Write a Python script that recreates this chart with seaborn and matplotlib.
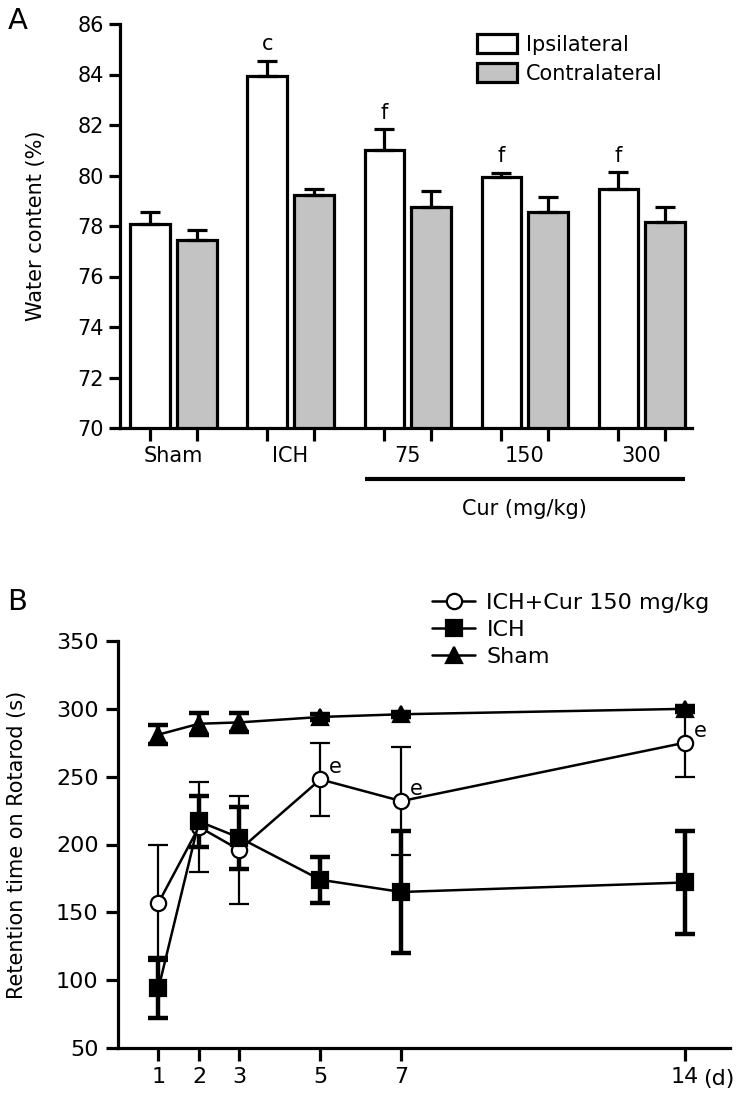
import numpy as np
import pandas as pd
import matplotlib
matplotlib.use("Agg")
import matplotlib.pyplot as plt
import matplotlib.transforms as mtransforms
import seaborn as sns

# Panel A: brain water content (%), mean and SEM
groups = ["Sham", "ICH", "75", "150", "300"]
sides = ["Ipsilateral", "Contralateral"]
ipsi_mean = [78.07, 83.95, 81.01, 79.94, 79.47]
ipsi_sem = [0.50, 0.60, 0.83, 0.17, 0.67]
contra_mean = [77.46, 79.24, 78.74, 78.56, 78.17]
contra_sem = [0.37, 0.23, 0.63, 0.58, 0.60]
sig_a = ["", "c", "f", "f", "f"]

# Panel B: rotarod retention time (s), mean and SEM
days = [1, 2, 3, 5, 7, 14]
day_labels = ["1", "2", "3", "5", "7", "14"]
cur_mean = [157, 213, 196, 248, 232, 275]
cur_sem = [43, 33, 40, 27, 40, 25]
ich_mean = [94, 217, 205, 174, 165, 172]
ich_sem = [22, 19, 23, 17, 45, 38]
sham_mean = [281, 289, 290, 294, 296, 300]
sham_sem = [7, 8, 7, 2, 2, 2]
sig_b = ["", "", "", "e", "e", "e"]

sns.set_theme(style="ticks")
plt.rcParams["font.family"] = ["DejaVu Sans"]
plt.rcParams.update({
    "text.color": "black", "axes.labelcolor": "black",
    "xtick.color": "black", "ytick.color": "black",
    "axes.edgecolor": "black",
})

fig = plt.figure(figsize=(7.4, 10.95), dpi=100)
W, H = 740, 1095
ax1 = fig.add_axes([120 / W, 1 - 428 / H, 572 / W, 404 / H])
ax2 = fig.add_axes([118 / W, 1 - 1048 / H, 612 / W, 407 / H])

# ---- Panel A
df_a = pd.DataFrame({
    "group": groups * 2,
    "side": [sides[0]] * len(groups) + [sides[1]] * len(groups),
    "value": ipsi_mean + contra_mean,
})
sns.barplot(data=df_a, x="group", y="value", hue="side", order=groups,
            hue_order=sides, palette=["white", "#c3c3c3"], edgecolor="black",
            linewidth=2.3, errorbar=None, width=0.8, gap=0.16, ax=ax1)

centers = []
for cont, means, sems in zip(ax1.containers, [ipsi_mean, contra_mean],
                             [ipsi_sem, contra_sem]):
    xs = [b.get_x() + b.get_width() / 2 for b in cont]
    centers += xs
    ax1.errorbar(xs, means, yerr=[np.zeros(len(sems)), sems], fmt="none",
                 ecolor="black", elinewidth=2.3, capsize=7, capthick=2.3,
                 zorder=3)
    if means is ipsi_mean:
        for x, m, s, t in zip(xs, means, sems, sig_a):
            if t:
                ax1.text(x, m + s + 0.25, t, ha="center", va="bottom",
                         fontsize=15)

ax1.set_ylim(70, 86)
ax1.set_xlim(-0.457, 4.43)
ax1.set_yticks(range(70, 87, 2))
ax1.set_xticks(range(len(groups)))
ax1.set_xticklabels(groups)
ax1.set_xticks(centers, minor=True)
ax1.tick_params(axis="x", which="major", length=0, pad=13, labelsize=15)
ax1.tick_params(axis="x", which="minor", length=9, width=2.3, direction="out")
ax1.tick_params(axis="y", length=8, width=2.3, pad=3.5, labelsize=15)
ax1.set_xlabel("")
ax1.set_ylabel("Water content (%)", fontsize=15)
ax1.yaxis.set_label_coords(-0.129, 0.5)
for sp in ["top", "right"]:
    ax1.spines[sp].set_visible(False)
for sp in ["left", "bottom"]:
    ax1.spines[sp].set_linewidth(2.3)

trans = mtransforms.blended_transform_factory(ax1.transData, ax1.transAxes)
ax1.plot([1.637, 4.37], [-0.127, -0.127], color="black", lw=3,
         transform=trans, clip_on=False, solid_capstyle="butt")
ax1.text(3.0, -0.2, "Cur (mg/kg)", transform=trans, ha="center",
         va="center", fontsize=15)

handles, labels = ax1.get_legend_handles_labels()
ax1.legend(handles, labels, loc="upper left", bbox_to_anchor=(0.624, 0.975),
           frameon=False, fontsize=15, handlelength=1.9, handleheight=1.05,
           handletextpad=0.45, labelspacing=0.38, borderpad=0,
           borderaxespad=0)

# ---- Panel B
series = [
    ("ICH+Cur 150 mg/kg", cur_mean, cur_sem, "o", "white", 1.6),
    ("ICH", ich_mean, ich_sem, "s", "black", 3.2),
    ("Sham", sham_mean, sham_sem, "^", "black", 3.2),
]
for name, means, sems, mk, fc, elw in series:
    ax2.errorbar(days, means, yerr=sems, fmt="none", ecolor="black",
                 elinewidth=elw, capsize=7, capthick=elw, zorder=2)
for name, means, sems, mk, fc, elw in series:
    df_b = pd.DataFrame({"day": days, "value": means})
    sns.lineplot(data=df_b, x="day", y="value", color="black", lw=1.8,
                 marker=mk, markersize=11 if mk != "^" else 12,
                 markerfacecolor=fc, markeredgecolor="black",
                 markeredgewidth=1.6, label=name, ax=ax2, zorder=4)

for d, m, t in zip(days, cur_mean, sig_b):
    if t:
        ax2.text(d + 0.22, m + 9, t, ha="left", va="center", fontsize=15)

ax2.set_xlim(0, 15.12)
ax2.set_ylim(50, 350)
ax2.set_yticks(range(50, 351, 50))
ax2.set_xticks(days)
ax2.set_xticklabels(day_labels)
ax2.tick_params(axis="both", length=9, width=2.3, labelsize=16)
ax2.tick_params(axis="y", pad=5)
ax2.tick_params(axis="x", pad=5)
trans2 = mtransforms.blended_transform_factory(ax2.transData, ax2.transAxes)
ax2.text(14.45, -0.075, "(d)", transform=trans2, ha="left", va="center",
         fontsize=16)
ax2.set_xlabel("")
ax2.set_ylabel("Retention time on Rotarod (s)", fontsize=15)
ax2.yaxis.set_label_coords(-0.149, 0.5)
for sp in ["top", "right"]:
    ax2.spines[sp].set_visible(False)
for sp in ["left", "bottom"]:
    ax2.spines[sp].set_linewidth(2.3)

ax2.legend(loc="upper left", bbox_to_anchor=(0.513, 1.118), frameon=False,
           fontsize=16, handlelength=1.95, handletextpad=0.5,
           labelspacing=0.32, borderpad=0, borderaxespad=0)

fig.text(8 / W, 1 - 21 / H, "A", fontsize=21, va="center", ha="left")
fig.text(7 / W, 1 - 602 / H, "B", fontsize=21, va="center", ha="left")

fig.savefig("out.png", dpi=100)
